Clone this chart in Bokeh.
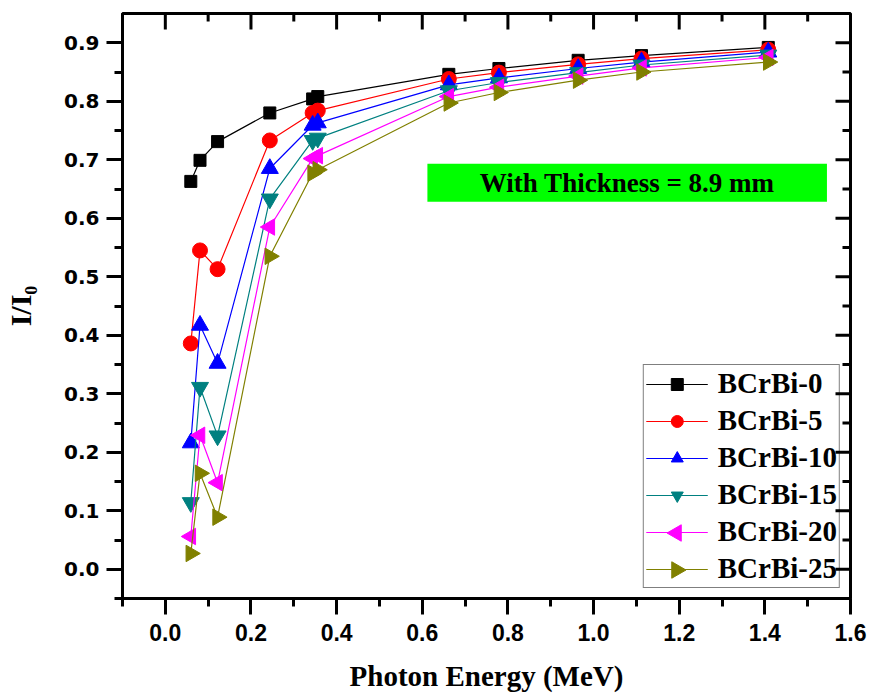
import numpy as np
from bokeh.plotting import figure
from bokeh.models import (SingleIntervalTicker, NumeralTickFormatter,
                          BoxAnnotation, Label, Legend)
from bokeh.embed import file_html
from bokeh.resources import INLINE

# ---- data ----
energy = [0.0595, 0.081, 0.122, 0.244, 0.344, 0.356, 0.662, 0.779, 0.964, 1.112, 1.408]
bcrbi_0 = [0.663, 0.699, 0.731, 0.780, 0.804, 0.808, 0.846, 0.856, 0.870, 0.878, 0.892]
bcrbi_5 = [0.386, 0.545, 0.513, 0.733, 0.780, 0.784, 0.838, 0.849, 0.863, 0.873, 0.888]
bcrbi_10 = [0.216, 0.417, 0.352, 0.685, 0.759, 0.763, 0.828, 0.840, 0.856, 0.867, 0.884]
bcrbi_15 = [0.114, 0.311, 0.228, 0.633, 0.733, 0.737, 0.818, 0.832, 0.849, 0.862, 0.879]
bcrbi_20 = [0.056, 0.229, 0.148, 0.585, 0.702, 0.707, 0.808, 0.824, 0.843, 0.857, 0.875]
bcrbi_25 = [0.027, 0.164, 0.089, 0.535, 0.677, 0.683, 0.797, 0.815, 0.836, 0.850, 0.867]

series_names = ["BCrBi-0", "BCrBi-5", "BCrBi-10", "BCrBi-15", "BCrBi-20", "BCrBi-25"]
series_values = [bcrbi_0, bcrbi_5, bcrbi_10, bcrbi_15, bcrbi_20, bcrbi_25]
colors = ["#000000", "#FF0000", "#0000FF", "#008080", "#FF00FF", "#808000"]
# marker kinds: Bokeh markers, or 'left'/'right' pointing triangles
markers = ["square", "circle", "triangle", "inverted_triangle", "left", "right"]
marker_sizes = [12, 15, 17, 17, 9.5, 9.5]

# tick positions for the top / right frame ticks (same as the bottom/left axes)
x_major_ticks = [0.0, 0.2, 0.4, 0.6, 0.8, 1.0, 1.2, 1.4, 1.6]
x_minor_ticks = [-0.1, 0.1, 0.3, 0.5, 0.7, 0.9, 1.1, 1.3, 1.5]
y_major_ticks = [0.0, 0.1, 0.2, 0.3, 0.4, 0.5, 0.6, 0.7, 0.8, 0.9]
y_minor_ticks = [-0.05, 0.05, 0.15, 0.25, 0.35, 0.45, 0.55, 0.65, 0.75, 0.85, 0.95]

annotation_text = "With Thickness = 8.9 mm"
box_left, box_right, box_bottom, box_top = 0.612, 1.545, 0.628, 0.693

X_RANGE = (-0.1, 1.6)
Y_RANGE = (-0.05, 0.95)

W, H = 872, 695
BL, BR, BT, BB = 122, 22, 13, 97
FRAME_W = W - BL - BR
FRAME_H = H - BT - BB
KX = (X_RANGE[1] - X_RANGE[0]) / FRAME_W   # data units per pixel
KY = (Y_RANGE[1] - Y_RANGE[0]) / FRAME_H

SERIF = "Liberation Serif"
SANS = "Liberation Sans"

p = figure(width=W, height=H, x_range=X_RANGE, y_range=Y_RANGE,
           output_backend="svg", toolbar_location=None,
           min_border_left=BL, min_border_right=BR, min_border_top=BT, min_border_bottom=BB)
p.outline_line_color = "black"
p.outline_line_width = 3
p.xgrid.visible = False
p.ygrid.visible = False
p.background_fill_color = "white"
p.border_fill_color = "white"

xt = SingleIntervalTicker(interval=0.2, num_minor_ticks=2)
yt = SingleIntervalTicker(interval=0.1, num_minor_ticks=2)

def style_axis(ax):
    ax.axis_line_width = 3
    ax.major_tick_line_width = 3
    ax.minor_tick_line_width = 3
    ax.major_tick_in, ax.major_tick_out = 0, 16
    ax.minor_tick_in, ax.minor_tick_out = 0, 8
    ax.major_label_text_color = "black"
    ax.major_label_text_font_style = "bold"
    ax.axis_label_text_font = SERIF
    ax.axis_label_text_font_style = "bold"
    ax.axis_label_text_color = "black"

xa = p.xaxis[0]
xa.ticker = xt
xa.formatter = NumeralTickFormatter(format="0.0")
style_axis(xa)
xa.major_label_text_font = SANS
xa.major_label_text_font_size = "23px"
xa.major_label_standoff = 9
xa.axis_label = "Photon Energy (MeV)"
xa.axis_label_text_font_size = "29px"
xa.axis_label_standoff = 16

ya = p.yaxis[0]
ya.ticker = yt
ya.formatter = NumeralTickFormatter(format="0.0")
style_axis(ya)
ya.major_label_text_font = "DejaVu Sans"
ya.major_label_text_font_size = "20px"
ya.major_label_standoff = 7
ya.axis_label = "I/I\u2080"
ya.axis_label_text_font_size = "30px"
ya.axis_label_standoff = 24

# inward ticks on the top and right frame edges, drawn as small box annotations
def tick_boxes(ticks, length, side, thick=3.0):
    for t in ticks:
        if side == "top":
            b = BoxAnnotation(left=t - thick / 2 * KX, right=t + thick / 2 * KX,
                              top=Y_RANGE[1], bottom=Y_RANGE[1] - length * KY)
        else:
            b = BoxAnnotation(left=X_RANGE[1] - length * KX, right=X_RANGE[1],
                              top=t + thick / 2 * KY, bottom=t - thick / 2 * KY)
        b.fill_color = "black"
        b.fill_alpha = 1.0
        b.line_alpha = 0
        p.add_layout(b)

tick_boxes(x_major_ticks, 16, "top")
tick_boxes(x_minor_ticks, 8, "top")
tick_boxes(y_major_ticks, 15, "right")
tick_boxes(y_minor_ticks, 8, "right")

def side_triangles(xs, ys, r, direction):
    """Triangle outlines (in data units) pointing left (-1) or right (+1), radius r pixels."""
    px, py = [], []
    for x, y in zip(xs, ys):
        tip = x + direction * r * KX
        back = x - direction * 0.5 * r * KX
        px.append([tip, back, back])
        py.append([y, y + 0.866 * r * KY, y - 0.866 * r * KY])
    return px, py

items = []
legend_triangles = []
for k, (name, vals, c, m, s) in enumerate(zip(series_names, series_values, colors, markers, marker_sizes)):
    r1 = p.line(energy, vals, line_color=c, line_width=1.2)
    if m in ("left", "right"):
        d = -1 if m == "left" else 1
        txs, tys = side_triangles(energy, vals, s, d)
        p.patches(txs, tys, fill_color=c, line_color=c)
        items.append((name, [r1]))
        legend_triangles.append((k, c, s, d))
    else:
        r2 = p.scatter(energy, vals, marker=m, size=s, fill_color=c, line_color=c)
        items.append((name, [r1, r2]))

LEG_PAD, LEG_SPACING, LEG_MARGIN, LEG_ITEM_H = 2, 4, 10, 33
LEG_GLYPH_W, LEG_STANDOFF, LEG_LABEL_W = 62, 10, 121

legend = Legend(items=items, location="bottom_right")
legend.label_text_font = SERIF
legend.label_text_font_style = "bold"
legend.label_text_font_size = "29px"
legend.label_text_color = "black"
legend.glyph_width = LEG_GLYPH_W
legend.glyph_height = 30
legend.label_height = 30
legend.spacing = LEG_SPACING
legend.padding = LEG_PAD
legend.margin = LEG_MARGIN
legend.label_standoff = LEG_STANDOFF
legend.border_line_color = "black"
legend.border_line_width = 1.5
legend.background_fill_alpha = 0
p.add_layout(legend, "center")

# triangle markers for the two side-pointing series inside the legend
n_items = len(series_names)
legend_glyph_x_px = BL + FRAME_W - LEG_MARGIN - LEG_PAD - LEG_LABEL_W - LEG_STANDOFF - LEG_GLYPH_W / 2
for k, c, s, d in legend_triangles:
    row_from_bottom = n_items - 1 - k
    cy_px = BT + FRAME_H - LEG_MARGIN - LEG_PAD - LEG_ITEM_H / 2 - row_from_bottom * (LEG_ITEM_H + LEG_SPACING)
    cx = X_RANGE[0] + (legend_glyph_x_px - BL) * KX
    cy = Y_RANGE[1] - (cy_px - BT) * KY
    txs, tys = side_triangles([cx], [cy], s, d)
    p.patches(txs, tys, fill_color=c, line_color=c)

box = BoxAnnotation(left=box_left, right=box_right, bottom=box_bottom, top=box_top,
                    fill_color="#00FF00", fill_alpha=1.0, line_alpha=0)
p.add_layout(box)
lab = Label(x=(box_left + box_right) / 2, y=(box_bottom + box_top) / 2, text=annotation_text,
            text_align="center", text_baseline="middle", text_font=SERIF,
            text_font_style="bold", text_font_size="27px", text_color="black")
p.add_layout(lab)

open("out.html", "w").write(file_html(p, INLINE))
